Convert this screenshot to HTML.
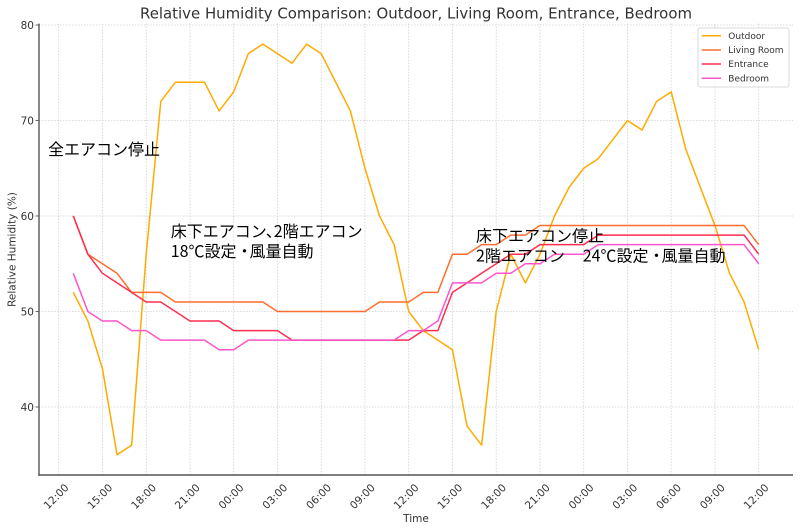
<!DOCTYPE html>
<html><head><meta charset="utf-8">
<style>
html,body{margin:0;padding:0;background:#fff;}
svg{display:block;}
.t{font-family:"DejaVu Sans","Liberation Sans",sans-serif;fill:#333;}
.jp{font-family:"Noto Sans CJK JP","Liberation Sans",sans-serif;fill:#000;font-size:16px;}
</style></head>
<body>
<svg width="800" height="531" viewBox="0 0 800 531" xmlns="http://www.w3.org/2000/svg">
<rect width="800" height="531" fill="#fff"/>
<!-- grid -->
<g stroke="#cfcfcf" stroke-width="0.8" stroke-dasharray="1.5,1.5" fill="none">
<line x1="39" y1="25" x2="793" y2="25"/>
<line x1="39" y1="120.5" x2="793" y2="120.5"/>
<line x1="39" y1="216" x2="793" y2="216"/>
<line x1="39" y1="311.5" x2="793" y2="311.5"/>
<line x1="39" y1="407" x2="793" y2="407"/>
<line x1="58.7" y1="23.6" x2="58.7" y2="475"/>
<line x1="102.45" y1="23.6" x2="102.45" y2="475"/>
<line x1="146.2" y1="23.6" x2="146.2" y2="475"/>
<line x1="189.95" y1="23.6" x2="189.95" y2="475"/>
<line x1="233.7" y1="23.6" x2="233.7" y2="475"/>
<line x1="277.45" y1="23.6" x2="277.45" y2="475"/>
<line x1="321.2" y1="23.6" x2="321.2" y2="475"/>
<line x1="364.95" y1="23.6" x2="364.95" y2="475"/>
<line x1="408.7" y1="23.6" x2="408.7" y2="475"/>
<line x1="452.45" y1="23.6" x2="452.45" y2="475"/>
<line x1="496.2" y1="23.6" x2="496.2" y2="475"/>
<line x1="539.95" y1="23.6" x2="539.95" y2="475"/>
<line x1="583.7" y1="23.6" x2="583.7" y2="475"/>
<line x1="627.45" y1="23.6" x2="627.45" y2="475"/>
<line x1="671.2" y1="23.6" x2="671.2" y2="475"/>
<line x1="714.95" y1="23.6" x2="714.95" y2="475"/>
<line x1="758.7" y1="23.6" x2="758.7" y2="475"/>
</g>
<!-- series -->
<g transform="translate(58.7,789) scale(14.5833,-9.55)" fill="none" stroke-width="1.5" stroke-linejoin="round">
<polyline vector-effect="non-scaling-stroke" stroke="#FFAA00" points="1,52 2,49 3,44 4,35 5,36 6,56 7,72 8,74 9,74 10,74 11,71 12,73 13,77 14,78 15,77 16,76 17,78 18,77 19,74 20,71 21,65 22,60 23,57 24,50 25,48 26,47 27,46 28,38 29,36 30,50 31,56 32,53 33,56 34,60 35,63 36,65 37,66 38,68 39,70 40,69 41,72 42,73 43,67 44,63 45,59 46,54 47,51 48,46"/>
<polyline vector-effect="non-scaling-stroke" stroke="#FF6E2E" points="1,60 2,56 3,55 4,54 5,52 7,52 8,51 14,51 15,50 21,50 22,51 24,51 25,52 26,52 27,56 28,56 29,57 30,57 31,58 32,58 33,59 47,59 48,57"/>
<polyline vector-effect="non-scaling-stroke" stroke="#FF2E50" points="1,60 2,56 3,54 4,53 5,52 6,51 7,51 8,50 9,49 11,49 12,48 15,48 16,47 24,47 25,48 26,48 27,52 28,53 29,54 30,55 31,56 32,56 33,57 36,57 37,58 47,58 48,56"/>
<polyline vector-effect="non-scaling-stroke" stroke="#FF55CC" points="1,54 2,50 3,49 4,49 5,48 6,48 7,47 10,47 11,46 12,46 13,47 23,47 24,48 25,48 26,49 27,53 29,53 30,54 31,54 32,55 33,55 34,56 36,56 37,57 47,57 48,55"/>
</g>
<!-- spines -->
<g stroke="#555" stroke-width="1.4">
<line x1="39" y1="23.6" x2="39" y2="475.7"/>
<line x1="38.3" y1="475" x2="793" y2="475"/>
</g>
<!-- ticks -->
<g stroke="#555" stroke-width="0.9">
<line x1="35.5" y1="25" x2="39" y2="25"/>
<line x1="35.5" y1="120.5" x2="39" y2="120.5"/>
<line x1="35.5" y1="216" x2="39" y2="216"/>
<line x1="35.5" y1="311.5" x2="39" y2="311.5"/>
<line x1="35.5" y1="407" x2="39" y2="407"/>
</g>
<!-- y tick labels -->
<g class="t" font-size="10.5" text-anchor="end">
<text x="34" y="28.8">80</text>
<text x="34" y="124.3">70</text>
<text x="34" y="219.8">60</text>
<text x="34" y="315.3">50</text>
<text x="34" y="410.8">40</text>
</g>
<!-- x tick labels -->
<g class="t" font-size="10.5" text-anchor="middle">
<text transform="translate(58.7,499) rotate(-45)">12:00</text>
<text transform="translate(102.45,499) rotate(-45)">15:00</text>
<text transform="translate(146.2,499) rotate(-45)">18:00</text>
<text transform="translate(189.95,499) rotate(-45)">21:00</text>
<text transform="translate(233.7,499) rotate(-45)">00:00</text>
<text transform="translate(277.45,499) rotate(-45)">03:00</text>
<text transform="translate(321.2,499) rotate(-45)">06:00</text>
<text transform="translate(364.95,499) rotate(-45)">09:00</text>
<text transform="translate(408.7,499) rotate(-45)">12:00</text>
<text transform="translate(452.45,499) rotate(-45)">15:00</text>
<text transform="translate(496.2,499) rotate(-45)">18:00</text>
<text transform="translate(539.95,499) rotate(-45)">21:00</text>
<text transform="translate(583.7,499) rotate(-45)">00:00</text>
<text transform="translate(627.45,499) rotate(-45)">03:00</text>
<text transform="translate(671.2,499) rotate(-45)">06:00</text>
<text transform="translate(714.95,499) rotate(-45)">09:00</text>
<text transform="translate(758.7,499) rotate(-45)">12:00</text>
</g>
<!-- axis labels -->
<text class="t" font-size="10.5" x="416" y="522" text-anchor="middle">Time</text>
<text class="t" font-size="10.5" text-anchor="middle" transform="translate(15.5,249.5) rotate(-90)">Relative Humidity (%)</text>
<!-- title -->
<text class="t" font-size="14.9" x="416" y="18.5" text-anchor="middle" textLength="552" lengthAdjust="spacingAndGlyphs">Relative Humidity Comparison: Outdoor, Living Room, Entrance, Bedroom</text>
<!-- annotations -->
<text class="jp" x="48" y="155">全エアコン停止</text>
<text class="jp" x="170.7" y="237">床下エアコン、<tspan dx="-8">2階エアコン</tspan></text>
<text class="jp" x="170.7" y="257">18℃設定・<tspan dx="-3">風量自動</tspan></text>
<text class="jp" x="476" y="241.5">床下エアコン停止</text>
<text class="jp" x="476" y="261.5">2階エアコン</text>
<text class="jp" x="582.7" y="261.5">24℃設定・<tspan dx="-3">風量自動</tspan></text>
<!-- legend -->
<rect x="698" y="28" width="91" height="59" rx="2" ry="2" fill="#fff" fill-opacity="0.85" stroke="#d0d0d0" stroke-width="0.8"/>
<g stroke-width="1.5">
<line x1="701.7" y1="35.7" x2="721" y2="35.7" stroke="#FFAA00"/>
<line x1="701.7" y1="50" x2="721" y2="50" stroke="#FF6E2E"/>
<line x1="701.7" y1="64" x2="721" y2="64" stroke="#FF2E50"/>
<line x1="701.7" y1="78.3" x2="721" y2="78.3" stroke="#FF55CC"/>
</g>
<g class="t" font-size="9">
<text x="728.3" y="38.9">Outdoor</text>
<text x="728.3" y="53.2">Living Room</text>
<text x="728.3" y="67.2">Entrance</text>
<text x="728.3" y="81.5">Bedroom</text>
</g>
</svg>
</body></html>
